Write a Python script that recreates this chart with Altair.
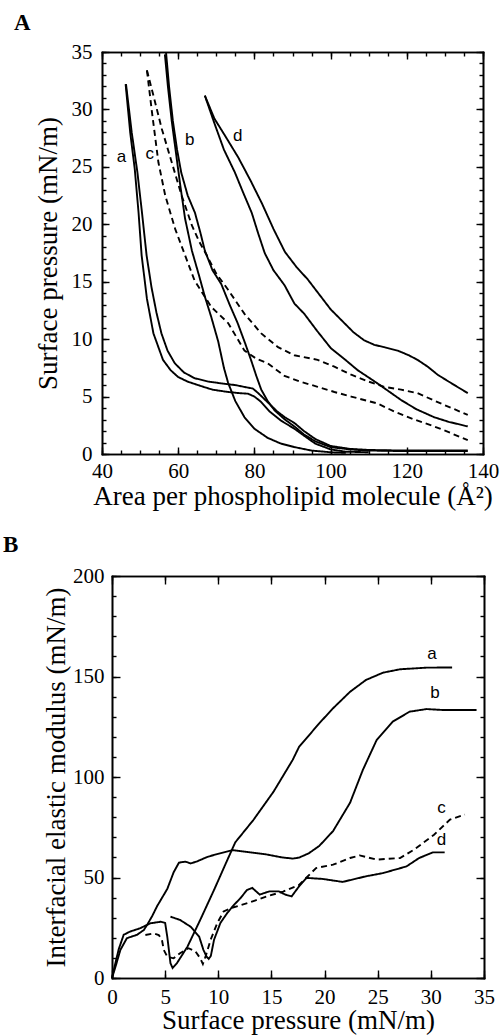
import altair as alt
import pandas as pd

# ---------------- Panel A: isotherms ----------------
A_A1_X = [46.3, 47.8, 49.3, 50.5, 51.7, 53.0, 54.3, 55.6, 57.2, 59.1, 61.5, 64.3, 68.0, 71.3, 75.0, 78.0, 79.6, 81.0, 83.5, 86.0, 88.0, 90.5, 93.0, 96.0, 100.0, 105.0, 110.0, 120.0, 136.0]
A_A1_Y = [32.2, 28.0, 24.5, 21.0, 17.3, 14.5, 12.3, 10.5, 9.0, 7.9, 7.1, 6.6, 6.3, 6.15, 6.0, 5.8, 5.7, 5.3, 4.5, 3.7, 3.2, 2.7, 2.0, 1.3, 0.7, 0.45, 0.35, 0.3, 0.3]
A_A2_X = [46.2, 47.4, 48.6, 49.6, 50.4, 51.8, 53.5, 56.0, 58.0, 60.0, 62.5, 65.2, 69.0, 73.1, 76.0, 78.3, 80.0, 81.7, 84.0, 87.0, 90.5, 93.0, 96.0, 100.0, 104.0, 110.0]
A_A2_Y = [32.2, 28.0, 24.8, 21.0, 17.3, 13.5, 10.5, 8.2, 7.3, 6.7, 6.3, 6.0, 5.6, 5.4, 5.3, 5.25, 5.0, 4.55, 3.7, 2.9, 2.2, 1.6, 0.9, 0.4, 0.2, 0.15]
A_B1_X = [56.5, 57.3, 58.3, 59.5, 60.5, 61.8, 63.6, 65.5, 67.0, 68.7, 70.5, 72.0, 73.1, 75.0, 77.4, 80.0, 83.5, 87.0, 90.5, 95.0, 100.0, 104.0]
A_B1_Y = [34.8, 32.0, 29.0, 26.0, 23.5, 20.5, 17.7, 15.5, 13.7, 11.9, 9.8, 7.5, 6.2, 4.6, 3.2, 2.2, 1.4, 0.9, 0.6, 0.3, 0.15, 0.1]
A_B2_X = [56.8, 57.6, 58.6, 59.7, 60.8, 62.5, 64.4, 65.8, 67.0, 69.0, 71.3, 73.5, 75.6, 77.5, 79.1, 80.5, 81.8, 83.5, 85.3, 88.0, 90.5, 93.0, 96.0, 100.0, 105.0, 110.0, 120.0, 136.0]
A_B2_Y = [35.0, 32.0, 29.0, 26.5, 24.5, 22.5, 21.0, 19.3, 17.7, 16.0, 14.8, 13.0, 11.4, 9.7, 8.2, 6.8, 5.6, 4.6, 3.8, 3.0, 2.4, 1.7, 1.1, 0.6, 0.4, 0.3, 0.25, 0.25]
A_C1_X = [51.8, 53.1, 54.8, 56.6, 59.2, 61.8, 64.3, 68.7, 73.1, 77.4, 80.5, 83.5, 87.9, 92.0, 96.6, 101.0, 105.4, 112.3, 116.7, 122.0, 127.2, 131.0, 136.0]
A_C1_Y = [33.4, 29.8, 25.4, 22.5, 19.6, 17.3, 15.1, 12.8, 11.4, 9.0, 8.3, 7.9, 6.8, 6.3, 5.85, 5.4, 5.0, 4.4, 3.7, 3.0, 2.4, 1.9, 1.2]
A_C2_X = [51.8, 53.5, 55.7, 58.3, 60.9, 63.6, 65.5, 67.5, 70.0, 73.1, 77.4, 81.8, 86.2, 90.5, 96.6, 101.0, 105.4, 110.0, 114.1, 118.5, 122.8, 128.9, 132.5, 136.0]
A_C2_Y = [33.4, 31.2, 28.3, 25.4, 22.5, 19.9, 18.5, 17.3, 15.7, 14.3, 12.2, 10.5, 9.3, 8.6, 8.2, 7.6, 6.9, 6.3, 5.85, 5.6, 5.3, 4.4, 3.9, 3.4]
A_D1_X = [67.0, 69.5, 72.5, 75.8, 79.0, 82.0, 85.0, 88.0, 91.0, 94.0, 97.0, 100.0, 103.6, 106.0, 108.8, 111.5, 114.1, 117.6, 120.5, 122.8, 125.5, 128.1, 132.0, 136.0]
A_D1_Y = [31.2, 29.2, 27.6, 25.8, 23.8, 21.8, 19.6, 17.6, 16.3, 15.2, 13.9, 12.6, 11.4, 10.6, 9.9, 9.5, 9.3, 9.0, 8.6, 8.2, 7.6, 6.9, 6.1, 5.3]
A_D2_X = [67.0, 69.5, 72.0, 74.9, 77.0, 79.3, 81.0, 82.7, 85.0, 87.9, 90.5, 93.1, 96.5, 100.1, 103.5, 107.1, 112.3, 118.5, 122.5, 127.2, 131.0, 136.0]
A_D2_Y = [31.2, 28.8, 26.5, 24.5, 22.8, 21.0, 19.2, 17.5, 16.0, 14.7, 13.1, 12.2, 10.7, 9.2, 8.3, 7.3, 6.15, 4.7, 3.9, 3.2, 2.8, 2.4]

A_LABELS = ["a", "c", "b", "d"]
A_LABEL_X = [45.1, 52.5, 63.0, 75.6]
A_LABEL_Y = [25.9, 26.1, 27.3, 27.7]

A_X_MAJOR = [40, 60, 80, 100, 120, 140]
A_X_MINOR = list(range(40, 141, 5))
A_Y_MAJOR = [0, 5, 10, 15, 20, 25, 30, 35]
A_Y_MINOR = list(range(0, 36, 1))

# ---------------- Panel B: elastic modulus ----------------
B_A_X = [0.0, 0.3, 0.63, 1.1, 1.7, 2.67, 3.6, 4.6, 5.0, 5.2, 5.5, 5.7, 6.1, 7.1, 8.3, 9.6, 10.85, 11.6, 13.3, 15.2, 17.0, 17.6, 19.5, 20.8, 22.4, 23.9, 25.5, 27.1, 29.6, 32.0]
B_A_Y = [0.0, 7.0, 14.3, 21.5, 23.1, 24.8, 27.2, 28.0, 27.4, 20.6, 7.4, 5.0, 7.3, 15.6, 28.9, 43.8, 58.7, 67.5, 78.6, 92.7, 108.5, 115.0, 126.7, 134.2, 142.4, 148.3, 151.9, 153.6, 154.4, 154.5]
B_B_X = [0.0, 0.35, 0.79, 1.4, 2.36, 3.0, 3.3, 3.8, 4.25, 5.2, 5.8, 6.3, 6.9, 7.4, 8.0, 9.0, 9.8, 11.35, 13.0, 14.5, 16.0, 17.0, 17.6, 18.5, 19.5, 20.8, 22.4, 23.6, 24.9, 26.4, 28.0, 29.6, 31.2, 34.3]
B_B_Y = [0.0, 6.0, 14.0, 19.8, 21.5, 23.9, 26.4, 31.0, 35.8, 44.3, 52.6, 57.4, 57.9, 57.0, 58.0, 60.3, 61.5, 63.6, 62.5, 61.5, 60.0, 59.4, 59.9, 62.0, 65.7, 73.1, 87.2, 103.5, 118.4, 127.5, 132.5, 133.8, 133.3, 133.3]
B_C_X = [3.14, 3.93, 4.4, 4.7, 4.87, 5.2, 5.8, 6.4, 7.2, 7.86, 8.3, 8.55, 8.8, 9.28, 9.9, 10.5, 11.2, 12.9, 14.5, 16.1, 17.6, 19.2, 20.8, 22.4, 23.3, 24.9, 27.1, 28.4, 30.3, 31.8, 33.2]
B_C_Y = [21.4, 22.2, 21.4, 18.9, 14.0, 10.6, 9.8, 12.3, 14.8, 13.2, 9.8, 7.0, 10.6, 19.0, 27.3, 33.1, 34.8, 37.5, 40.5, 43.0, 46.3, 54.7, 56.4, 59.7, 61.0, 58.9, 59.7, 63.8, 71.3, 78.8, 81.3]
B_D_X = [5.5, 6.4, 7.4, 8.2, 8.6, 8.9, 9.1, 9.3, 9.6, 10.2, 10.85, 11.5, 12.1, 12.7, 13.2, 13.9, 14.8, 15.7, 16.3, 16.9, 17.6, 18.3, 19.8, 21.7, 23.9, 25.5, 27.7, 28.9, 30.2, 31.3]
B_D_Y = [30.5, 28.9, 25.5, 20.6, 14.0, 10.6, 9.5, 11.0, 19.0, 27.4, 32.4, 36.5, 39.8, 43.8, 44.8, 41.5, 43.1, 43.1, 41.5, 40.6, 45.6, 49.8, 49.3, 47.8, 50.6, 52.2, 55.5, 59.7, 62.5, 62.5]

B_LABELS = ["a", "b", "c", "d"]
B_LABEL_X = [30.1, 30.4, 31.0, 31.0]
B_LABEL_Y = [161.0, 141.8, 84.4, 68.7]

B_X_MAJOR = [0, 5, 10, 15, 20, 25, 30, 35]
B_Y_MAJOR = [0, 50, 100, 150, 200]
B_Y_MINOR = list(range(0, 201, 10))

SERIF = "Liberation Serif"
SANS = "Liberation Sans"


def build(series):
    rows = []
    for name, dash, xs, ys in series:
        for i, (x, y) in enumerate(zip(xs, ys)):
            rows.append({"series": name, "dash": dash, "i": i, "x": x, "y": y})
    return pd.DataFrame(rows)


def labels_df(ts, xs, ys):
    return pd.DataFrame({"t": ts, "x": xs, "y": ys})


def panel(df, lab, xdom, ydom, xoff, W, H, xmaj, xmin, ymaj, ymin, xtitle, ytitle,
          ttl, ttl_dx, ttl_off, dash, xlp, ylp, xtp, ytp, tick_major, tick_minor):
    full_w = xoff + W
    xs = alt.Scale(domain=xdom, nice=False, zero=False, range=[xoff, full_w])
    ys = alt.Scale(domain=ydom, nice=False, zero=False)
    common = dict(labelFont=SERIF, labelFontSize=21, labelColor="black",
                  titleFont=SERIF, titleFontSize=27, titleFontWeight="normal",
                  titleColor="black", grid=False, ticks=False, domain=False,
                  labelFlush=False, labelOverlap=False)
    lines = alt.Chart(df).mark_line(color="black", strokeWidth=1.9).encode(
        x=alt.X("x:Q", scale=xs, axis=alt.Axis(
            values=xmaj, labelPadding=xlp, title=xtitle, titlePadding=xtp, **common)),
        y=alt.Y("y:Q", scale=ys, axis=alt.Axis(
            values=ymaj, labelPadding=ylp, title=ytitle, titlePadding=ytp,
            orient="left", offset=-xoff, **common)),
        detail="series:N",
        order="i:Q",
        strokeDash=alt.StrokeDash("dash:N", scale=alt.Scale(
            domain=["solid", "dashed"], range=[[1, 0], dash]), legend=None),
    )
    text = alt.Chart(lab).mark_text(font=SANS, fontSize=17, color="black").encode(
        x=alt.X("x:Q", scale=xs, axis=None),
        y=alt.Y("y:Q", scale=ys, axis=None),
        text="t:N",
    )

    def ticks(xo, yo, xv, yv, size):
        x_off = -H
        y_off = (xoff - full_w) if yo == "right" else -full_w
        box = dict(labels=False, domain=True, domainColor="black", domainWidth=1.6,
                   domainCap="square", grid=False, title=None, tickWidth=1.4,
                   tickColor="black", tickSize=size)
        return alt.Chart(df).mark_point(opacity=0, size=1).encode(
            x=alt.X("x:Q", scale=xs, axis=alt.Axis(orient=xo, offset=x_off, values=xv, **box)),
            y=alt.Y("y:Q", scale=ys, axis=alt.Axis(orient=yo, offset=y_off, values=yv, **box)),
        )

    layers = [
        lines, text,
        ticks("top", "right", xmin, ymin, tick_minor),
        ticks("top", "right", xmaj, ymaj, tick_major),
        ticks("bottom", "left", xmin, ymin, tick_minor),
        ticks("bottom", "left", xmaj, ymaj, tick_major),
    ]
    return alt.layer(*layers).resolve_axis(x="independent", y="independent").properties(
        width=full_w, height=H,
        title=alt.TitleParams(ttl, anchor="start", frame="group", dx=ttl_dx,
                              offset=ttl_off, baseline="alphabetic", font=SERIF,
                              fontSize=23, fontWeight="bold", color="black"),
    )


dfA = build([
    ("a1", "solid", A_A1_X, A_A1_Y), ("a2", "solid", A_A2_X, A_A2_Y),
    ("b1", "solid", A_B1_X, A_B1_Y), ("b2", "solid", A_B2_X, A_B2_Y),
    ("c1", "dashed", A_C1_X, A_C1_Y), ("c2", "dashed", A_C2_X, A_C2_Y),
    ("d1", "solid", A_D1_X, A_D1_Y), ("d2", "solid", A_D2_X, A_D2_Y),
])
dfB = build([
    ("a", "solid", B_A_X, B_A_Y), ("b", "solid", B_B_X, B_B_Y),
    ("c", "dashed", B_C_X, B_C_Y), ("d", "solid", B_D_X, B_D_Y),
])

panelA = panel(dfA, labels_df(A_LABELS, A_LABEL_X, A_LABEL_Y), [40, 140], [0, 35],
               0, 381, 402, A_X_MAJOR, A_X_MINOR, A_Y_MAJOR, A_Y_MINOR,
               "Area per phospholipid molecule (Å²)", "Surface pressure (mN/m)",
               "A", -88, -12, [6, 4], 6, 10, 2, 9, 7, 4)
panelB = panel(dfB, labels_df(B_LABELS, B_LABEL_X, B_LABEL_Y), [0, 35], [0, 200],
               10, 372, 402, B_X_MAJOR, B_X_MAJOR, B_Y_MAJOR, B_Y_MINOR,
               "Surface pressure (mN/m)", "Interfacial elastic modulus (mN/m)",
               "B", -99, -10, [4, 3], 8, 8, 0, 2, 8, 4)

chart = alt.concat(panelA, panelB, columns=1, spacing=23).properties(
    autosize=alt.AutoSizeParams(type="none"),
    padding={"left": 102, "top": 52, "right": 399, "bottom": 983},
    background="white",
).configure_view(
    stroke="transparent"
)

chart.save("out.html", embed_options={"renderer": "svg", "actions": False})
